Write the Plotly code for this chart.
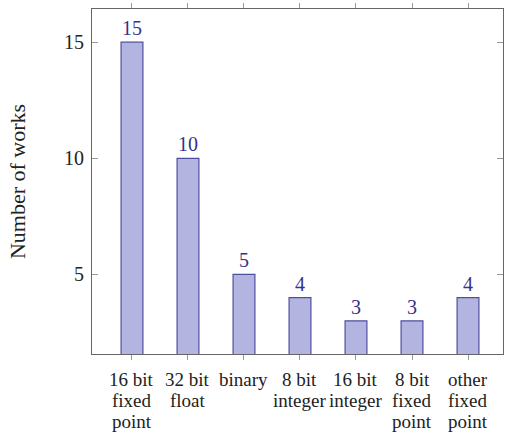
import plotly.graph_objects as go

categories = ["16 bit<br>fixed<br>point", "32 bit<br>float", "binary", "8 bit<br>integer",
              "16 bit<br>integer", "8 bit<br>fixed<br>point", "other<br>fixed<br>point"]
counts = [15, 10, 5, 4, 3, 3, 4]
y_ticks = [5, 10, 15]

xs = list(range(len(categories)))
font_family = "Liberation Serif"
label_font = dict(family=font_family, size=19, color="#222")

fig = go.Figure()
fig.add_trace(go.Bar(
    x=xs, y=counts, width=0.39,
    marker=dict(color="#b4b4e0", line=dict(color="#4f4fa0", width=1.2)),
    text=[str(c) for c in counts], textposition="outside",
    textfont=dict(family=font_family, size=20, color="#33338a"),
    cliponaxis=False, hoverinfo="skip",
))

# multi-line category labels with tight (pgfplots-like) line spacing
line_gap = 21
first_line = 25
for x, cat in zip(xs, categories):
    for i, line in enumerate(cat.split("<br>")):
        fig.add_annotation(x=x, xref="x", y=0, yref="paper", text=line,
                           showarrow=False, xanchor="center", yanchor="middle",
                           yshift=-(first_line + i * line_gap), font=label_font)

fig.update_layout(
    width=507, height=435,
    margin=dict(l=92, r=4, t=9, b=81, autoexpand=False),
    plot_bgcolor="white", paper_bgcolor="white",
    showlegend=False,
    font=dict(family=font_family, size=20, color="#222"),
    xaxis=dict(range=[-0.714, 6.625], tickmode="array", tickvals=xs, ticktext=categories,
               showticklabels=False,
               showline=True, linecolor="#666", linewidth=1.2, mirror="ticks", automargin=False,
               ticks="outside", ticklen=5, tickcolor="#999", showgrid=False, zeroline=False),
    yaxis=dict(range=[1.57, 16.43], tickmode="array", tickvals=y_ticks, automargin=False,
               showline=True, linecolor="#666", linewidth=1.2, mirror="ticks",
               ticks="inside", ticklen=6, tickcolor="#999", showgrid=False, zeroline=False,
               ticklabelstandoff=3,
               tickfont=dict(family=font_family, size=20, color="#222"),
               title=dict(text="Number of works", font=dict(family=font_family, size=22, color="#222"),
                          standoff=32)),
)
fig.write_html("out.html", config={"displayModeBar": False},
               post_script="document.body.style.margin='0';")
